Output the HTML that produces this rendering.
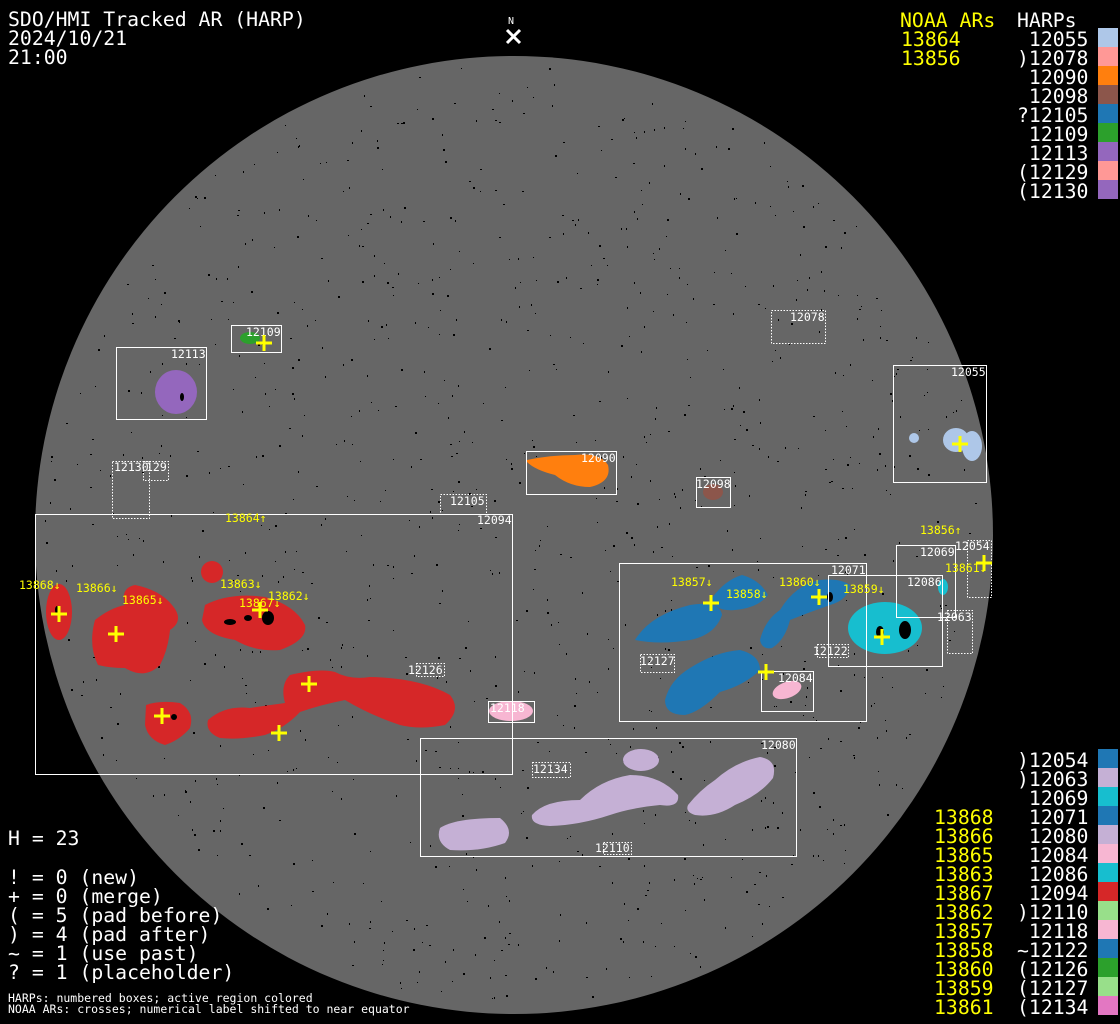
<!DOCTYPE html>
<html><head><meta charset="utf-8"><style>
html,body{margin:0;padding:0;background:#000;width:1120px;height:1024px;overflow:hidden}
svg{display:block}
.t{font-family:"DejaVu Sans Mono","Liberation Mono",monospace;font-size:19.8px;fill:#fff}
.y{fill:#ff0}
.s{font-family:"DejaVu Sans Mono","Liberation Mono",monospace;font-size:11.5px;fill:#fff}
.b{fill:none;stroke:#fff;stroke-width:1}
.d{fill:none;stroke:#fff;stroke-width:1;stroke-dasharray:1.5 1.5}
.c{stroke:#ff0;stroke-width:3;fill:none}
</style></head><body>
<svg width="1120" height="1024" viewBox="0 0 1120 1024" xmlns="http://www.w3.org/2000/svg">
<rect width="1120" height="1024" fill="#000"/>
<circle cx="514" cy="535" r="479" fill="#666"/>
<g id="dots" fill="#000"></g>
<g>
<ellipse cx="59" cy="612" rx="13" ry="28" fill="#d62728"/>
<path d="M95 620 Q110 608 125 605 Q120 588 135 585 Q160 590 172 605 Q185 620 170 630 Q168 650 160 665 Q145 680 125 668 Q110 668 98 665 Q88 645 95 620Z" fill="#d62728"/>
<ellipse cx="212" cy="572" rx="11" ry="11" fill="#d62728"/>
<path d="M205 605 Q230 592 265 597 Q295 605 305 625 Q308 640 280 650 Q255 652 235 640 Q205 635 202 620Z" fill="#d62728"/>
<path d="M146 705 Q160 700 180 703 Q195 712 190 728 Q180 740 165 745 Q148 740 145 725Z" fill="#d62728"/>
<path d="M208 720 Q225 705 250 708 Q270 705 285 703 Q280 685 290 675 Q320 668 335 672 Q350 680 370 677 Q420 678 450 695 Q462 710 445 725 Q420 730 400 725 Q370 715 345 700 Q320 705 300 712 Q285 728 265 735 Q240 740 220 738 Q205 732 208 720Z" fill="#d62728"/>
<path d="M527 460 Q550 455 575 455 Q600 452 608 465 Q612 482 590 487 Q570 487 555 475 Q535 470 527 462Z" fill="#ff7f0e"/>
<ellipse cx="176" cy="392" rx="21" ry="22" fill="#9467bd"/>
<ellipse cx="250" cy="338" rx="10" ry="6" fill="#2ca02c"/>
<ellipse cx="713" cy="492" rx="10" ry="8" fill="#8c564b"/>
<ellipse cx="914" cy="438" rx="5" ry="5" fill="#aec7e8"/>
<ellipse cx="956" cy="440" rx="13" ry="12" fill="#aec7e8"/>
<ellipse cx="972" cy="446" rx="10" ry="15" fill="#aec7e8"/>
<path d="M635 640 Q650 615 690 605 Q720 600 722 615 Q715 635 690 640 Q660 645 635 640Z" fill="#1f77b4"/>
<path d="M712 598 Q725 580 742 575 Q760 580 768 595 Q758 608 735 610 Q715 612 712 598Z" fill="#1f77b4"/>
<path d="M665 700 Q670 680 690 668 Q715 652 740 650 Q760 655 760 670 Q745 685 720 692 Q700 712 685 715 Q665 715 665 700Z" fill="#1f77b4"/>
<path d="M760 640 Q765 620 780 610 Q795 585 820 580 Q840 578 850 585 Q848 600 830 605 Q810 612 790 620 Q785 640 772 648 Q762 650 760 640Z" fill="#1f77b4"/>
<ellipse cx="885" cy="628" rx="37" ry="26" fill="#17becf"/>
<ellipse cx="943" cy="587" rx="5" ry="8" fill="#17becf"/>
<ellipse cx="787" cy="690" rx="15" ry="8" transform="rotate(-20 787 690)" fill="#f7b6d2"/>
<ellipse cx="511" cy="711" rx="22" ry="10" fill="#f7b6d2"/>
<path d="M440 828 Q455 818 500 818 Q515 830 505 843 Q480 852 450 850 Q435 842 440 828Z" fill="#c5b0d5"/>
<path d="M532 815 Q545 800 580 800 Q600 780 630 775 Q660 775 678 795 Q680 808 660 805 Q630 808 610 815 Q580 825 550 826 Q530 825 532 815Z" fill="#c5b0d5"/>
<ellipse cx="641" cy="760" rx="18" ry="11" fill="#c5b0d5"/>
<path d="M688 805 Q700 790 715 780 Q735 762 760 757 Q778 760 773 778 Q760 795 735 805 Q715 818 695 815 Q685 812 688 805Z" fill="#c5b0d5"/>
</g>
<g fill="#000">
<ellipse cx="268" cy="618" rx="6" ry="7"/><ellipse cx="248" cy="618" rx="4" ry="3"/><ellipse cx="230" cy="622" rx="6" ry="3"/>
<ellipse cx="57" cy="610" rx="2" ry="4"/><ellipse cx="174" cy="717" rx="3" ry="3"/><ellipse cx="830" cy="597" rx="3" ry="5"/>
<ellipse cx="905" cy="630" rx="6" ry="9"/><ellipse cx="880" cy="632" rx="4" ry="6"/><ellipse cx="182" cy="397" rx="2" ry="4"/>
</g>
<g>
<rect class="b" x="35.5" y="514.5" width="477" height="260"/>
<rect class="b" x="526.5" y="451.5" width="90" height="43"/>
<rect class="b" x="116.5" y="347.5" width="90" height="72"/>
<rect class="b" x="231.5" y="325.5" width="50" height="27"/>
<rect class="b" x="696.5" y="477.5" width="34" height="30"/>
<rect class="b" x="893.5" y="365.5" width="93" height="117"/>
<rect class="b" x="619.5" y="563.5" width="247" height="158"/>
<rect class="b" x="828.5" y="575.5" width="114" height="91"/>
<rect class="b" x="896.5" y="545.5" width="59" height="72"/>
<rect class="b" x="761.5" y="671.5" width="52" height="40"/>
<rect class="b" x="420.5" y="738.5" width="376" height="118"/>
<rect class="b" x="488.5" y="701.5" width="46" height="21"/>
</g>
<g>
<rect class="d" x="771.5" y="310.5" width="54" height="33"/>
<rect class="d" x="440.5" y="494.5" width="46" height="20"/>
<rect class="d" x="112.5" y="461.5" width="37" height="57"/>
<rect class="d" x="143.5" y="461.5" width="25" height="19"/>
<rect class="d" x="416.5" y="663.5" width="28" height="13"/>
<rect class="d" x="640.5" y="654.5" width="34" height="18"/>
<rect class="d" x="817.5" y="644.5" width="31" height="13"/>
<rect class="d" x="947.5" y="610.5" width="25" height="43"/>
<rect class="d" x="967.5" y="540.5" width="24" height="57"/>
<rect class="d" x="532.5" y="762.5" width="38" height="15"/>
<rect class="d" x="603.5" y="842.5" width="28" height="12"/>
</g>
<g class="s">
<text x="477" y="524">12094</text><text x="581" y="462">12090</text><text x="171" y="358">12113</text>
<text x="246" y="336">12109</text><text x="696" y="488">12098</text><text x="951" y="376">12055</text>
<text x="831" y="574">12071</text><text x="907" y="586">12086</text><text x="920" y="556">12069</text>
<text x="778" y="682">12084</text><text x="761" y="749">12080</text><text x="490" y="712">12118</text>
<text x="790" y="321">12078</text><text x="450" y="505">12105</text><text x="114" y="471">12130</text><text x="146" y="471">129</text>
<text x="408" y="674">12126</text><text x="640" y="665">12127</text><text x="813" y="655">12122</text>
<text x="937" y="621">12063</text><text x="955" y="550">12054</text><text x="533" y="773">12134</text><text x="595" y="852">12110</text>
</g>
<g class="s" fill="#ff0" style="fill:#ff0">
<text x="225" y="522" fill="#ff0" style="fill:#ff0">13864↑</text><text x="19" y="589" style="fill:#ff0">13868↓</text><text x="76" y="592" style="fill:#ff0">13866↓</text>
<text x="122" y="604" style="fill:#ff0">13865↓</text><text x="220" y="588" style="fill:#ff0">13863↓</text><text x="239" y="607" style="fill:#ff0">13867↓</text>
<text x="268" y="600" style="fill:#ff0">13862↓</text><text x="671" y="586" style="fill:#ff0">13857↓</text><text x="726" y="598" style="fill:#ff0">13858↓</text>
<text x="779" y="586" style="fill:#ff0">13860↓</text><text x="843" y="593" style="fill:#ff0">13859↓</text><text x="920" y="534" style="fill:#ff0">13856↑</text><text x="945" y="572" style="fill:#ff0">13861↓</text>
</g>
<g class="c" id="cr"></g>
<text x="508" y="24" class="s" style="font-size:10px">N</text>
<path d="M507 30 L520 43 M520 30 L507 43" stroke="#fff" stroke-width="3"/>
<g class="t">
<text x="8" y="26">SDO/HMI Tracked AR (HARP)</text>
<text x="8" y="45">2024/10/21</text>
<text x="8" y="64">21:00</text>
<text x="8" y="845">H = 23</text>
<text x="8" y="884">! = 0 (new)</text>
<text x="8" y="903">+ = 0 (merge)</text>
<text x="8" y="922">( = 5 (pad before)</text>
<text x="8" y="941">) = 4 (pad after)</text>
<text x="8" y="960">~ = 1 (use past)</text>
<text x="8" y="979">? = 1 (placeholder)</text>
</g>
<text x="8" y="1002" class="s">HARPs: numbered boxes; active region colored</text>
<text x="8" y="1013" class="s">NOAA ARs: crosses; numerical label shifted to near equator</text>
<g id="leg"></g>
</svg>
<script>
(function(){
var NS="http://www.w3.org/2000/svg";
function el(p,t,a,txt){var e=document.createElementNS(NS,t);for(var k in a)e.setAttribute(k,a[k]);if(txt!=null)e.textContent=txt;p.appendChild(e);return e;}
var s=12345;function r(){s=(s*1103515245+12345)%2147483648;return s/2147483648;}
var g=document.getElementById('dots');
for(var i=0;i<1100;i++){var a=r()*6.283,d=Math.sqrt(r())*470;var x=514+d*Math.cos(a),y=535+d*Math.sin(a);
 var w=r()<0.7?1:2;el(g,'rect',{x:x.toFixed(0),y:y.toFixed(0),width:w,height:r()<0.5?1:2});}
var cr=document.getElementById('cr');
[[59,614],[116,634],[260,610],[162,716],[279,733],[309,684],[711,603],[819,597],[882,637],[766,672],[984,563],[960,444],[264,343]].forEach(function(p){
 el(cr,'path',{d:'M'+(p[0]-8)+' '+p[1]+'H'+(p[0]+8)+'M'+p[0]+' '+(p[1]-8)+'V'+(p[1]+8)});});
var L=document.getElementById('leg');
el(L,'text',{'class':'t y',x:900,y:27},'NOAA ARs');
el(L,'text',{'class':'t y',x:901,y:46},'13864');
el(L,'text',{'class':'t y',x:901,y:65},'13856');
el(L,'text',{'class':'t',x:1017,y:27},'HARPs');
var top=[[' 12055','#aec7e8'],[')12078','#ff9896'],[' 12090','#ff7f0e'],[' 12098','#8c564b'],['?12105','#1f77b4'],[' 12109','#2ca02c'],[' 12113','#9467bd'],['(12129','#ff9896'],['(12130','#9467bd']];
top.forEach(function(t,i){el(L,'text',{'class':'t',x:1017,y:46+19*i,style:'white-space:pre'},t[0]);el(L,'rect',{x:1098,y:28+19*i,width:20,height:19,fill:t[1]});});
var bot=[[')12054','#1f77b4',''],[')12063','#c5b0d5',''],[' 12069','#17becf',''],[' 12071','#1f77b4','13868'],[' 12080','#c5b0d5','13866'],[' 12084','#f7b6d2','13865'],[' 12086','#17becf','13863'],[' 12094','#d62728','13867'],[')12110','#98df8a','13862'],[' 12118','#f7b6d2','13857'],['~12122','#1f77b4','13858'],['(12126','#2ca02c','13860'],['(12127','#98df8a','13859'],['(12134','#e377c2','13861']];
bot.forEach(function(t,i){var yy=767+19*i;el(L,'text',{'class':'t',x:1017,y:yy,style:'white-space:pre'},t[0]);if(t[2])el(L,'text',{'class':'t y',x:934,y:yy},t[2]);el(L,'rect',{x:1098,y:749+19*i,width:20,height:19,fill:t[1]});});
})();
</script>
</body></html>
